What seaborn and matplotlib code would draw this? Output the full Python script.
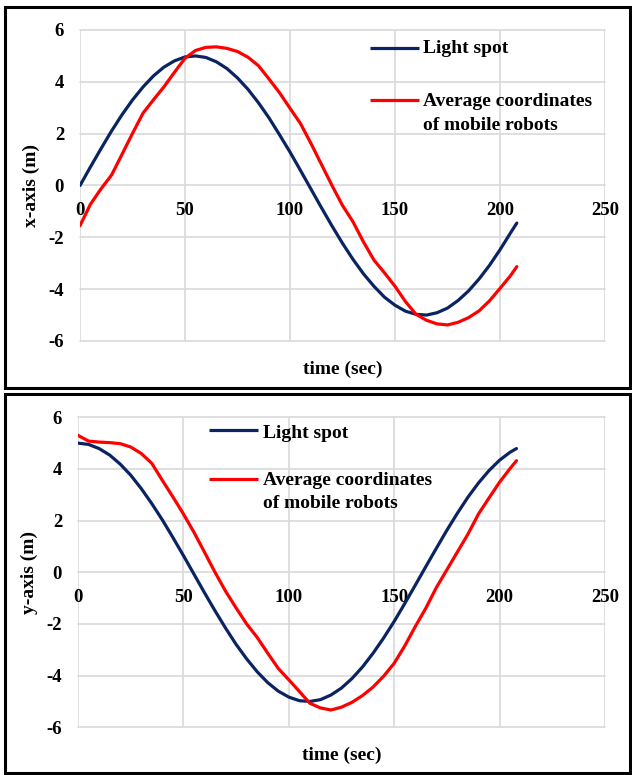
import matplotlib
matplotlib.use("Agg")
import matplotlib.pyplot as plt
import pandas as pd
import seaborn as sns
from matplotlib.patches import Rectangle

# ---------------- data ----------------
time_sec = [0, 5, 10, 15, 20, 25, 30, 35, 40, 45, 50, 55, 60, 65, 70, 75, 80,
            85, 90, 95, 100, 105, 110, 115, 120, 125, 130, 135, 140, 145, 150,
            155, 160, 165, 170, 175, 180, 185, 190, 195, 200, 205, 208]

light_x = [0.00, 0.72, 1.42, 2.10, 2.73, 3.30, 3.80, 4.23, 4.57, 4.81, 4.96,
           5.00, 4.94, 4.77, 4.51, 4.15, 3.71, 3.19, 2.61, 1.96, 1.29, 0.58,
           -0.14, -0.86, -1.56, -2.23, -2.85, -3.41, -3.89, -4.31, -4.62,
           -4.85, -4.97, -5.00, -4.91, -4.73, -4.44, -4.07, -3.61, -3.08,
           -2.48, -1.83, -1.45]

robots_x = [-1.55, -0.72, -0.13, 0.40, 1.20, 2.01, 2.79, 3.31, 3.81, 4.37,
            4.91, 5.21, 5.33, 5.35, 5.29, 5.17, 4.95, 4.62, 4.11, 3.58, 2.98,
            2.39, 1.62, 0.81, 0.00, -0.77, -1.40, -2.18, -2.88, -3.37, -3.89,
            -4.48, -4.97, -5.20, -5.34, -5.38, -5.28, -5.10, -4.84, -4.45,
            -3.97, -3.48, -3.13]

light_y = [5.00, 4.95, 4.79, 4.54, 4.19, 3.76, 3.24, 2.66, 2.03, 1.35, 0.65,
           -0.07, -0.79, -1.49, -2.16, -2.79, -3.35, -3.85, -4.27, -4.60,
           -4.83, -4.97, -5.00, -4.93, -4.75, -4.48, -4.11, -3.66, -3.13,
           -2.54, -1.90, -1.21, -0.50, 0.22, 0.93, 1.63, 2.29, 2.91, 3.46,
           3.94, 4.34, 4.65, 4.79]

robots_y = [5.30, 5.08, 5.04, 5.02, 4.98, 4.85, 4.60, 4.22, 3.56, 2.92, 2.26,
            1.55, 0.78, 0.00, -0.73, -1.38, -2.00, -2.52, -3.13, -3.72, -4.16,
            -4.61, -5.07, -5.25, -5.33, -5.22, -5.03, -4.77, -4.44, -4.02,
            -3.52, -2.85, -2.10, -1.39, -0.59, 0.10, 0.79, 1.48, 2.26, 2.88,
            3.49, 4.02, 4.32]

series_names = ["Light spot", "Average coordinates of mobile robots"]
legend_lines = [["Light spot"], ["Average coordinates", "of mobile robots"]]
x_ticks = [0, 50, 100, 150, 200, 250]
y_ticks = [-6, -4, -2, 0, 2, 4, 6]
y_labels = ["x-axis (m)", "y-axis (m)"]
x_label = "time (sec)"

# ---------------- style ----------------
sns.set_theme(style="white")
plt.rcParams["font.family"] = ["Liberation Serif", "DejaVu Serif"]
plt.rcParams["font.weight"] = "bold"
plt.rcParams["axes.unicode_minus"] = False

NAVY = "#0a2463"
RED = "#ff0000"
GRID = "#d9d9d9"

W, H = 632, 775
fig = plt.figure(figsize=(W / 100, H / 100), dpi=100)


def px_axes(left, top, right, bottom):
    return fig.add_axes([left / W, (H - bottom) / H, (right - left) / W, (bottom - top) / H])


panels = [
    dict(rect=(80, 30, 605, 341), light=light_x, robots=robots_x, ylab=y_labels[0],
         leg_x0=0.5524, leg_x1=0.6457, leg_tx=0.653,
         leg_line_y=[0.942, 0.775], leg_base=[[0.925], [0.7556, 0.680]],
         border=(5, 7, 629.5, 388)),
    dict(rect=(78, 417.3, 605, 727.3), light=light_y, robots=robots_y, ylab=y_labels[1],
         leg_x0=0.2486, leg_x1=0.3416, leg_tx=0.351,
         leg_line_y=[0.959, 0.800], leg_base=[[0.934], [0.7816, 0.7065]],
         border=(5, 394, 629.5, 773)),
]

for p in panels:
    ax = px_axes(*p["rect"])
    n = len(time_sec)
    df = pd.DataFrame({
        "time": time_sec + time_sec,
        "value": p["light"] + p["robots"],
        "series": [series_names[0]] * n + [series_names[1]] * n,
    })
    sns.lineplot(data=df, x="time", y="value", hue="series",
                 palette=[NAVY, RED], linewidth=2.3, legend=False,
                 estimator=None, sort=False, ax=ax, zorder=3)

    ax.set_xlim(0, 250)
    ax.set_ylim(-6, 6)
    ax.set_xticks(x_ticks)
    ax.set_yticks(y_ticks)
    ax.set_xticklabels([str(v) for v in x_ticks])
    ax.set_yticklabels([str(v) for v in y_ticks])
    ax.grid(True, color=GRID, linewidth=1.2)
    for gl in ax.get_xgridlines() + ax.get_ygridlines():
        gl.set_clip_on(False)
    ax.set_axisbelow(True)
    for s in ax.spines.values():
        s.set_visible(False)
    ax.spines["bottom"].set_position(("data", 0))
    ax.tick_params(axis="x", length=0, pad=12, labelsize=13.5, colors="black")
    ax.tick_params(axis="y", length=0, pad=11.5, labelsize=13.5, colors="black")
    for t in ax.get_xticklabels() + ax.get_yticklabels():
        t.set_fontweight("bold")

    ax.set_xlabel(x_label, fontsize=14, fontweight="bold", color="black")
    ax.xaxis.set_label_coords(0.5, -0.09)
    ax.xaxis.label.set_va("center")
    ax.set_ylabel(p["ylab"], fontsize=14, fontweight="bold", color="black")
    ax.yaxis.set_label_coords(-0.076, 0.5)

    # legend (drawn manually to match the Excel layout)
    for i, col in enumerate([NAVY, RED]):
        ax.plot([p["leg_x0"], p["leg_x1"]], [p["leg_line_y"][i]] * 2,
                transform=ax.transAxes, color=col, linewidth=2.3,
                clip_on=False, solid_capstyle="butt", zorder=4)
        for line_txt, yb in zip(legend_lines[i], p["leg_base"][i]):
            ax.text(p["leg_tx"], yb, line_txt, transform=ax.transAxes,
                    ha="left", va="baseline", fontsize=14, fontweight="bold",
                    color="black", zorder=4)

    bx0, by0, bx1, by1 = p["border"]
    fig.patches.append(Rectangle((bx0 / W, (H - by1) / H), (bx1 - bx0) / W, (by1 - by0) / H,
                                 transform=fig.transFigure, fill=False,
                                 edgecolor="black", linewidth=2.2))

fig.savefig("out.png", dpi=100, facecolor="white")
